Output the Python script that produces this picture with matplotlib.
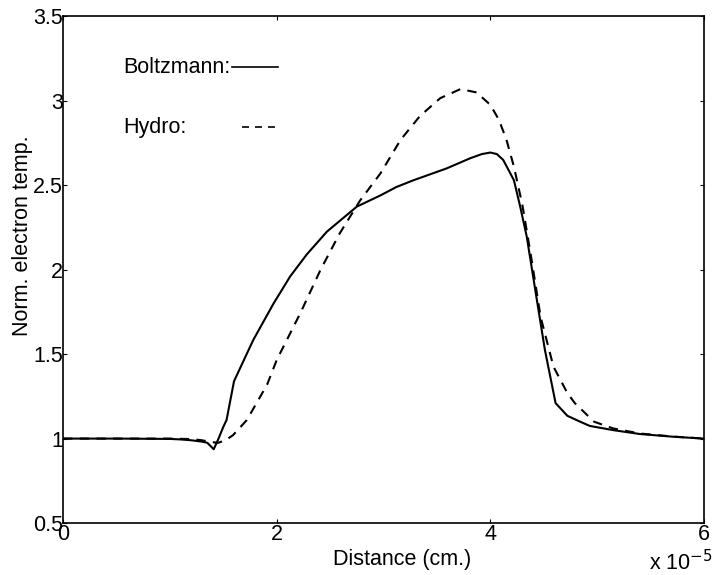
import matplotlib
matplotlib.use("Agg")
import matplotlib.pyplot as plt

plt.rcParams["font.family"] = ["Liberation Sans", "DejaVu Sans"]

# Boltzmann solution (x in units of 1e-5 cm)
boltz_x = [0.0, 0.5, 1.0, 1.1, 1.2, 1.3, 1.35, 1.41, 1.455, 1.50, 1.53, 1.60,
           1.78, 1.97, 2.125, 2.28, 2.47, 2.75, 2.97, 3.12, 3.28, 3.59, 3.81,
           3.92, 4.0, 4.06, 4.12, 4.22, 4.28, 4.34, 4.36, 4.435, 4.51, 4.61,
           4.72, 4.84, 4.93, 5.15, 5.40, 5.71, 6.0]
boltz_y = [1.0, 1.0, 0.998, 0.995, 0.99, 0.982, 0.975, 0.937, 1.0, 1.07, 1.11, 1.34,
           1.584, 1.80, 1.96, 2.09, 2.226, 2.374, 2.44, 2.49, 2.53, 2.60, 2.66,
           2.685, 2.694, 2.685, 2.65, 2.53, 2.37, 2.196, 2.117, 1.82, 1.525, 1.21,
           1.135, 1.10, 1.075, 1.05, 1.027, 1.011, 1.0]

# Hydrodynamic model
hydro_x = [0.0, 0.5, 1.0, 1.2, 1.3, 1.38, 1.45, 1.52, 1.59, 1.72, 1.91, 2.0,
           2.22, 2.41, 2.59, 2.78, 2.97, 3.16, 3.34, 3.53, 3.72, 3.87, 4.0,
           4.08, 4.15, 4.22, 4.30, 4.38, 4.47, 4.59, 4.72, 4.79, 4.97, 5.15,
           5.40, 5.71, 6.0]
hydro_y = [1.0, 1.0, 1.0, 0.997, 0.99, 0.98, 0.975, 0.99, 1.02, 1.11, 1.32, 1.466,
           1.742, 2.0, 2.216, 2.41, 2.57, 2.77, 2.91, 3.016, 3.07, 3.05, 2.976,
           2.887, 2.77, 2.61, 2.38, 2.08, 1.72, 1.426, 1.27, 1.21, 1.10, 1.06,
           1.03, 1.012, 1.0]

fs = 15.5

fig = plt.figure(figsize=(7.17, 5.75), dpi=100)
ax = fig.add_axes([0.088, 0.0904, 0.894, 0.881])

ax.plot(boltz_x, boltz_y, color="black", linewidth=1.5)
ax.plot(hydro_x, hydro_y, color="black", linewidth=1.5, linestyle=(0, (4.5, 3.5)))

ax.set_xlim(0, 6)
ax.set_ylim(0.5, 3.5)
ax.set_xticks([0, 2, 4, 6])
ax.set_yticks([0.5, 1, 1.5, 2, 2.5, 3, 3.5])
ax.set_yticklabels(["0.5", "1", "1.5", "2", "2.5", "3", "3.5"])
ax.tick_params(direction="in", length=3, width=0.8, labelsize=fs,
               top=True, right=True)
ax.tick_params(axis="x", pad=1)
ax.tick_params(axis="y", pad=0)
for s in ax.spines.values():
    s.set_linewidth(1.2)

ax.set_xlabel("Distance (cm.)", fontsize=fs)
ax.xaxis.set_label_coords(0.529, -0.051)
ax.set_ylabel("Norm. electron temp.", fontsize=fs, va="center")
ax.yaxis.set_label_coords(-0.064, 0.567)

# exponent for the x axis
fig.text(0.994, 0.0087, r"x 10$^{-5}$", fontsize=fs, ha="right", va="baseline")

# hand-placed key
ax.text(0.0936, 0.899, "Boltzmann:", transform=ax.transAxes, fontsize=fs,
        va="center")
ax.plot([0.2637, 0.335], [0.901, 0.901], transform=ax.transAxes,
        color="black", linewidth=1.2)
ax.text(0.0936, 0.781, "Hydro:", transform=ax.transAxes, fontsize=fs,
        va="center")
ax.plot([0.279, 0.335], [0.781, 0.781], transform=ax.transAxes,
        color="black", linewidth=1.2, linestyle=(0, (4.2, 3.6)))

fig.savefig("out.png", dpi=100)
